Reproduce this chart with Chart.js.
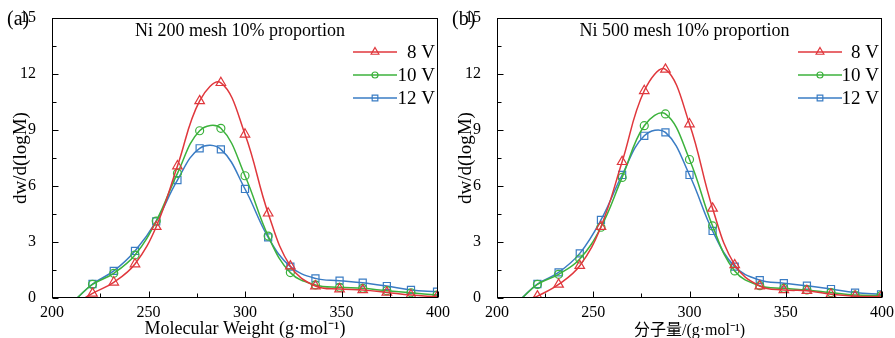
<!DOCTYPE html>
<html>
<head>
<meta charset="utf-8">
<script src="https://cdn.jsdelivr.net/npm/chart.js@4.4.1/dist/chart.umd.min.js"></script>
<style>
  html, body { margin: 0; padding: 0; background: #fff; }
  #wrap { position: relative; width: 895px; height: 338px; overflow: hidden; }
  canvas { position: absolute; top: 0; }
  #chartA { left: 0; }
  #chartB { left: 445px; }
</style>
</head>
<body>
<div id="wrap">
  <canvas id="chartA" width="460" height="338"></canvas>
  <canvas id="chartB" width="450" height="338"></canvas>
</div>
<script>
// molecular weight of the sampled points (g/mol)
const mw = [221, 232, 243, 254, 265, 276.5, 287.5, 300, 312, 323.5, 336.5, 349, 361, 373.5, 386, 399.5];
const seriesNames = ["8 V", "10 V", "12 V"];

// (a) Ni 200 mesh
const a8V  = [0.25, 0.84, 1.82, 3.82, 7.07, 10.56, 11.53, 8.77, 4.54, 1.71, 0.64, 0.48, 0.43, 0.30, 0.16, 0.07];
const a10V = [0.73, 1.32, 2.30, 4.12, 6.68, 8.96, 9.09, 6.55, 3.32, 1.36, 0.70, 0.57, 0.52, 0.39, 0.28, 0.16];
const a12V = [0.75, 1.45, 2.52, 4.10, 6.32, 8.02, 7.96, 5.84, 3.25, 1.68, 1.05, 0.93, 0.82, 0.64, 0.43, 0.34];
const onsetA = [217, 213, 213]; // where each curve leaves zero

// (b) Ni 500 mesh
const b8V  = [0.10, 0.73, 1.73, 3.82, 7.30, 11.10, 12.25, 9.32, 4.80, 1.77, 0.64, 0.43, 0.39, 0.20, 0.10, 0.07];
const b10V = [0.73, 1.27, 2.09, 3.79, 6.46, 9.23, 9.86, 7.42, 3.86, 1.45, 0.66, 0.52, 0.43, 0.29, 0.16, 0.13];
const b12V = [0.75, 1.37, 2.39, 4.18, 6.59, 8.69, 8.87, 6.59, 3.59, 1.68, 0.96, 0.79, 0.66, 0.48, 0.29, 0.20];
const onsetB = [218, 213, 213];

const xTicks = [200, 250, 300, 350, 400];
const yTicks = [0, 3, 6, 9, 12, 15];

const colors = ["#e0373c", "#3cb23c", "#3a7cc4"];
const markers = ["triangle", "circle", "rect"];
const markerSize = [5.5, 4, 5];
const serif = "'Liberation Serif', 'Times New Roman', 'Noto Sans CJK SC', serif";

function makeSet(i, onset, values) {
  const pts = [{ x: onset, y: 0 }].concat(mw.map((m, k) => ({ x: m, y: values[k] })));
  return {
    label: seriesNames[i],
    data: pts,
    borderColor: colors[i],
    borderWidth: 1.5,
    pointStyle: markers[i],
    pointRadius: ctx => ctx.dataIndex === 0 ? 0 : markerSize[i],
    pointBorderWidth: 1.2,
    pointBorderColor: colors[i],
    pointBackgroundColor: "rgba(255,255,255,0)",
    tension: 0.4
  };
}

function drawMarker(ctx, style, x, y, r) {
  ctx.beginPath();
  if (style === "triangle") {
    ctx.moveTo(x, y - r);
    ctx.lineTo(x + r * 0.866, y + r * 0.5);
    ctx.lineTo(x - r * 0.866, y + r * 0.5);
    ctx.closePath();
  } else if (style === "circle") {
    ctx.arc(x, y, r, 0, Math.PI * 2);
  } else {
    const s = r * Math.SQRT1_2;
    ctx.rect(x - s, y - s, 2 * s, 2 * s);
  }
  ctx.stroke();
}

// frame, inward ticks, heading, panel tag and legend
const panelPlugin = {
  id: "panel",
  afterDraw(chart, args, opts) {
    const { ctx, chartArea: a, scales: { x, y } } = chart;
    ctx.save();
    ctx.strokeStyle = "#000";
    ctx.lineWidth = 1;
    const L = Math.round(a.left) + 0.5, R = Math.round(a.right) - 0.5;
    const T = Math.round(a.top) + 0.5, B = Math.round(a.bottom) - 0.5;
    ctx.strokeRect(L, T, R - L, B - T);
    ctx.beginPath();
    for (let v = 200; v <= 400; v += 25) {
      const px = Math.round(x.getPixelForValue(v)) + 0.5;
      ctx.moveTo(px, B);
      ctx.lineTo(px, B - (v % 50 === 0 ? 6 : 4));
    }
    for (let v = 0; v <= 15; v += 1.5) {
      const py = Math.round(y.getPixelForValue(v)) + 0.5;
      ctx.moveTo(L, py);
      ctx.lineTo(L + (v % 3 === 0 ? 6 : 4), py);
    }
    ctx.stroke();

    ctx.fillStyle = "#000";
    ctx.textBaseline = "middle";
    ctx.font = "18px " + serif;
    ctx.textAlign = "center";
    ctx.fillText(opts.heading, (a.left + a.right) / 2 - 5, 31);
    ctx.font = "20px " + serif;
    ctx.textAlign = "left";
    ctx.fillText(opts.tag, a.left - 45, 20);

    // legend
    ctx.font = "19px " + serif;
    ctx.textAlign = "right";
    chart.data.datasets.forEach((ds, i) => {
      const ly = 52 + i * 23;
      const x0 = a.left + 301, x1 = a.left + 345;
      ctx.strokeStyle = ds.borderColor;
      ctx.lineWidth = 1.5;
      ctx.beginPath();
      ctx.moveTo(x0, ly);
      ctx.lineTo(x1, ly);
      ctx.stroke();
      ctx.lineWidth = 1.2;
      drawMarker(ctx, ds.pointStyle, (x0 + x1) / 2, ly, markerSize[i] - 1);
      ctx.fillStyle = "#000";
      ctx.fillText(ds.label, a.right - 3, ly + 1);
    });
    ctx.restore();
  }
};

function makeChart(id, sets, tag, heading, xTitle, xTitleSize, rightPad) {
  return new Chart(document.getElementById(id), {
    type: "line",
    data: { datasets: sets },
    plugins: [panelPlugin],
    options: {
      responsive: false,
      animation: false,
      layout: { padding: { left: 0, right: rightPad, top: 18, bottom: 0 } },
      plugins: {
        legend: { display: false },
        tooltip: { enabled: false },
        panel: { tag: tag, heading: heading }
      },
      scales: {
        x: {
          type: "linear",
          min: 200,
          max: 400,
          afterBuildTicks: s => { s.ticks = xTicks.map(v => ({ value: v })); },
          afterFit: s => { s.height = 40; },
          grid: { display: false },
          border: { display: false },
          ticks: { color: "#000", padding: -3, maxRotation: 0, font: { family: serif, size: 16 } },
          title: { display: true, text: xTitle, color: "#000", padding: { top: 0, bottom: -2 }, font: { family: serif, size: xTitleSize } }
        },
        y: {
          min: 0,
          max: 15,
          afterBuildTicks: s => { s.ticks = yTicks.map(v => ({ value: v })); },
          afterFit: s => { s.width = 52; },
          grid: { display: false },
          border: { display: false },
          ticks: { color: "#000", padding: 8, font: { family: serif, size: 16 } },
          title: { display: true, text: "dw/d(logM)", color: "#000", padding: { top: 10, bottom: 0 }, font: { family: serif, size: 19 } }
        }
      }
    }
  });
}

makeChart("chartA",
  [makeSet(0, onsetA[0], a8V), makeSet(1, onsetA[1], a10V), makeSet(2, onsetA[2], a12V)],
  "(a)", "Ni 200 mesh 10% proportion", "Molecular Weight (g\u00b7mol\u207b\u00b9)", 18, 22);

makeChart("chartB",
  [makeSet(0, onsetB[0], b8V), makeSet(1, onsetB[1], b10V), makeSet(2, onsetB[2], b12V)],
  "(b)", "Ni 500 mesh 10% proportion", "分子量/(g\u00b7mol\u207b\u00b9)", 16, 13);
</script>
</body>
</html>
